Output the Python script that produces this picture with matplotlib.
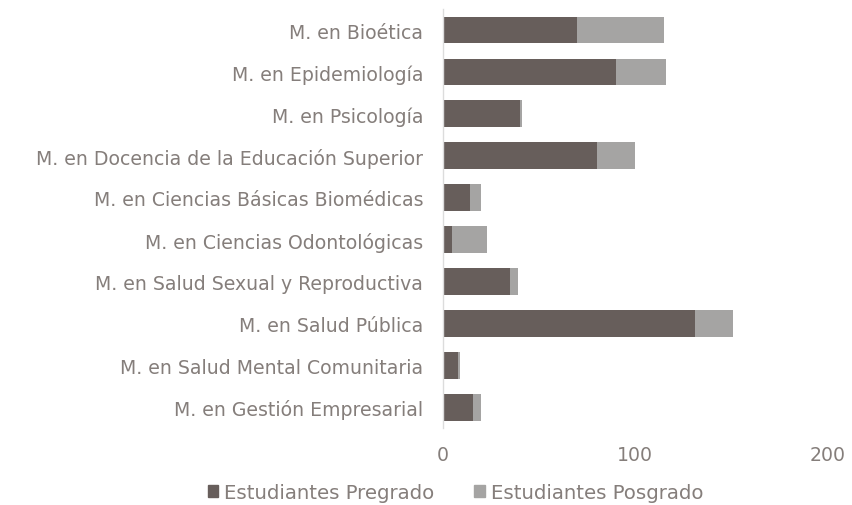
import numpy as np
import matplotlib.pyplot as plt
from matplotlib.patches import Patch

plt.rcParams['font.family'] = ['DejaVu Sans']

programas = ["M. en Bioética", "M. en Epidemiología", "M. en Psicología",
             "M. en Docencia de la Educación Superior", "M. en Ciencias Básicas Biomédicas",
             "M. en Ciencias Odontológicas", "M. en Salud Sexual y Reproductiva",
             "M. en Salud Pública", "M. en Salud Mental Comunitaria",
             "M. en Gestión Empresarial"]
pregrado = [70, 90, 40, 80, 14, 5, 35, 131, 8, 16]
posgrado = [45, 26, 1, 20, 6, 18, 4, 20, 1, 4]

c_pre = '#675e5b'
c_pos = '#a5a4a3'
c_txt = '#857e7b'

fig = plt.figure(figsize=(8.53, 5.06), dpi=100)
ax = fig.add_axes([0.519, 0.152, 0.451, 0.828])

y = np.arange(len(programas))
ax.barh(y, pregrado, height=0.64, color=c_pre, label='Estudiantes Pregrado')
ax.barh(y, posgrado, left=pregrado, height=0.64, color=c_pos, label='Estudiantes Posgrado')

ax.set_ylim(len(programas) - 0.5, -0.5)
ax.set_xlim(0, 200)
ax.set_xticks([0, 100, 200])
ax.set_yticks(y)
ax.set_yticklabels(programas, fontsize=13.6, color=c_txt)
ax.tick_params(axis='x', labelsize=13.6, colors=c_txt, length=0, pad=12)
ax.tick_params(axis='y', length=0, pad=14)

for s in ['top', 'right', 'bottom']:
    ax.spines[s].set_visible(False)
ax.spines['left'].set_color('#dcdcdc')
ax.spines['left'].set_linewidth(1)

handles = [Patch(color=c_pre), Patch(color=c_pos)]
leg = fig.legend(handles, ['Estudiantes Pregrado', 'Estudiantes Posgrado'],
                 loc='center', bbox_to_anchor=(0.534, 0.025), ncol=2, frameon=False,
                 fontsize=14.2, handlelength=0.55, handleheight=0.55, handletextpad=0.3,
                 columnspacing=2.0)
for t in leg.get_texts():
    t.set_color(c_txt)

fig.savefig('out.png', dpi=100)
